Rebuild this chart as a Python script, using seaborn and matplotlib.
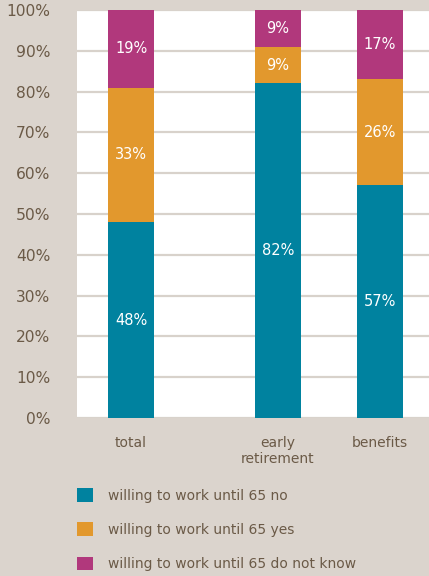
import matplotlib
matplotlib.use("Agg")
import matplotlib.pyplot as plt
import matplotlib.patches as mpatches
import numpy as np
import pandas as pd
import seaborn as sns

# Share of respondents by group
groups = ["total", "early\nretirement", "benefits"]
willing_no = [48, 82, 57]
willing_yes = [33, 9, 26]
willing_dont_know = [19, 9, 17]

series_names = [
    "willing to work until 65 no",
    "willing to work until 65 yes",
    "willing to work until 65 do not know",
]
y_ticks = [0, 10, 20, 30, 40, 50, 60, 70, 80, 90, 100]

# Layout: bar centres on a numeric axis (wider gap after "total")
bar_pos = [0.0, 1.44, 2.44]
bar_width = 0.45

colors = ["#00829f", "#e2982d", "#b1387c"]
bg = "#dbd4cd"
grid_c = "#d8d2cb"
text_c = "#6b5a47"

sns.set_theme(style="white")
plt.rcParams["font.family"] = ["DejaVu Sans"]

fig = plt.figure(figsize=(4.29, 5.76), dpi=100, facecolor=bg)
ax = fig.add_axes([77 / 429, 158 / 576, 352 / 429, 408 / 576])
ax.set_facecolor("white")

df = pd.DataFrame({
    "pos": bar_pos,
    "no": willing_no,
    "yes": willing_yes,
    "dk": willing_dont_know,
})
df["cum_yes"] = df["no"] + df["yes"]
df["cum_dk"] = df["cum_yes"] + df["dk"]

# Stacked bars: draw cumulative totals back to front
for col, c in [("cum_dk", colors[2]), ("cum_yes", colors[1]), ("no", colors[0])]:
    sns.barplot(data=df, x="pos", y=col, native_scale=True, width=bar_width,
                color=c, saturation=1, linewidth=0, ax=ax, zorder=3,
                errorbar=None)

# Segment value labels
for i, p in enumerate(bar_pos):
    bottoms = [0, willing_no[i], willing_no[i] + willing_yes[i]]
    vals = [willing_no[i], willing_yes[i], willing_dont_know[i]]
    for b, v in zip(bottoms, vals):
        ax.text(p, b + v / 2, f"{v}%", ha="center", va="center",
                color="white", fontsize=10.5, zorder=4)

ax.set_xlim(-0.53, 2.92)
ax.set_ylim(0, 100)
ax.set_yticks(y_ticks)
ax.set_yticklabels([f"{t}%" for t in y_ticks])
ax.set_xticks(bar_pos)
ax.set_xticklabels(groups)
ax.set_xlabel("")
ax.set_ylabel("")
ax.tick_params(axis="y", length=0, pad=19, labelsize=11.2, labelcolor=text_c)
ax.tick_params(axis="x", length=0, pad=13, labelsize=10, labelcolor=text_c)
for s in ax.spines.values():
    s.set_visible(False)
ax.yaxis.grid(True, color=grid_c, linewidth=1.6, zorder=0)
ax.xaxis.grid(False)
ax.set_axisbelow(True)

handles = [mpatches.Patch(facecolor=c, edgecolor="none") for c in colors]
leg = fig.legend(handles, series_names, loc="upper left",
                 bbox_to_anchor=(77 / 429, 1 - 488 / 576), frameon=False,
                 fontsize=10, handlelength=1.15, handleheight=1.15,
                 handletextpad=1.08, labelspacing=1.42, borderaxespad=0,
                 borderpad=0)
for t in leg.get_texts():
    t.set_color(text_c)

fig.savefig("out.png", dpi=100, facecolor=bg)
